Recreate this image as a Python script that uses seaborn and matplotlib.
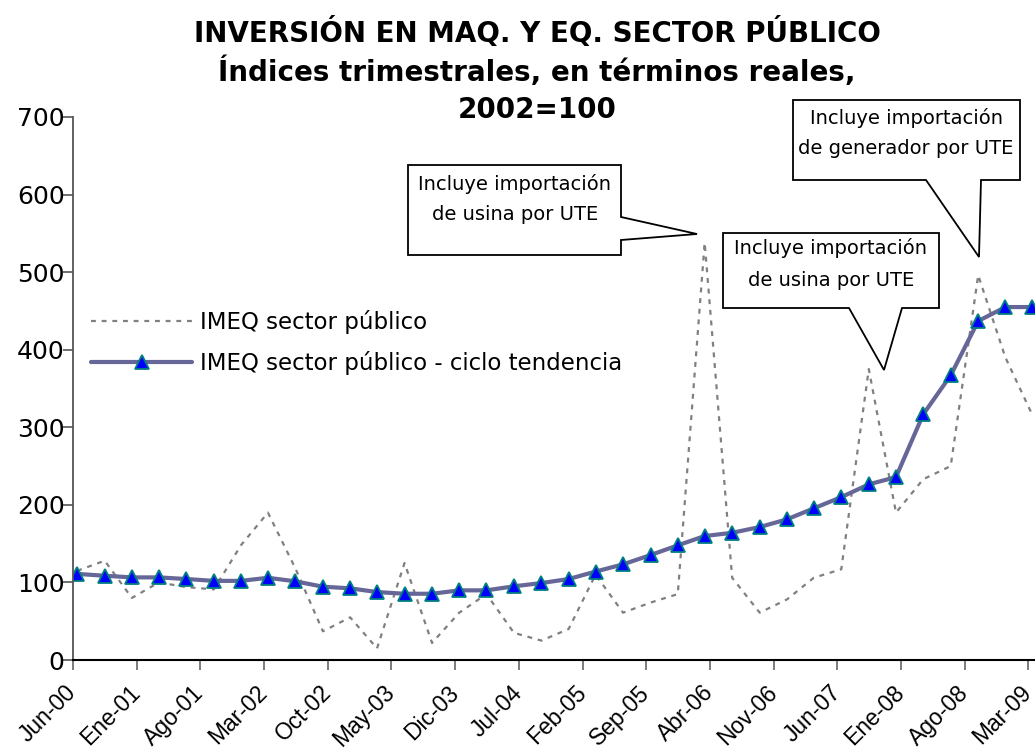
import matplotlib
matplotlib.use('Agg')
import matplotlib.pyplot as plt
from matplotlib.patches import Polygon
import seaborn as sns
import pandas as pd

# quarterly data, Jun-00 .. Mar-09
quarters = pd.date_range('2000-06-01', periods=36, freq='3MS') + pd.Timedelta(days=14)
imeq = [115, 128, 80, 100, 94, 91, 148, 190, 118, 37,
        55, 15, 125, 22, 61, 85, 35, 25, 40, 110,
        61, 74, 85, 538, 106, 61, 78, 106, 117, 375,
        190, 233, 250, 496, 390, 316]
tendencia = [111, 108.6, 106.5, 106.5, 104.4, 102, 102, 106, 101.4, 94.5,
             92.4, 87.6, 85.4, 85.4, 89.8, 89.8, 95, 99.2, 104.4, 114,
             123.3, 135.3, 147.8, 159.8, 164, 171.4, 181.3, 195.5, 210, 226.4,
             235.8, 316.6, 367, 437, 455, 455]
tick_dates = pd.date_range('2000-06-01', periods=16, freq='7MS')
tick_labels = ['Jun-00', 'Ene-01', 'Ago-01', 'Mar-02', 'Oct-02', 'May-03', 'Dic-03', 'Jul-04',
               'Feb-05', 'Sep-05', 'Abr-06', 'Nov-06', 'Jun-07', 'Ene-08', 'Ago-08', 'Mar-09']

df = pd.DataFrame({'fecha': quarters, 'imeq': imeq, 'tend': tendencia})

W, H = 1035, 752
sns.set_style('white')
plt.rcParams['font.family'] = ['DejaVu Sans']
plt.rcParams['text.color'] = 'black'
plt.rcParams['xtick.labelcolor'] = 'black'
plt.rcParams['ytick.labelcolor'] = 'black'

fig = plt.figure(figsize=(W / 100, H / 100), dpi=100)
ax = fig.add_axes([73 / W, 1 - 660 / H, 1 - 73 / W, (660 - 117) / H])


def px(x, y):
    # pixel position (from top-left) -> figure fraction
    return (x / W, 1 - y / H)


sns.lineplot(data=df, x='fecha', y='imeq', ax=ax, color='#808080', lw=1.6,
             linestyle=(0, (2.2, 2.6)), label='IMEQ sector público')
sns.lineplot(data=df, x='fecha', y='tend', ax=ax, color='#666699', lw=3,
             marker='^', markersize=10, markerfacecolor='#0000ff',
             markeredgecolor='#008080', markeredgewidth=1.3,
             label='IMEQ sector público - ciclo tendencia')

ax.set_ylim(0, 700)
ax.set_yticks(range(0, 701, 100))
ax.set_xlim(pd.Timestamp('2000-06-01'), pd.Timestamp('2009-03-24'))
ax.set_xticks(tick_dates)
ax.set_xticklabels(tick_labels, rotation=45, ha='right', va='center', rotation_mode='anchor',
                   family='Liberation Sans', fontsize=16.5)
ax.tick_params(axis='y', labelsize=18, length=7, width=1.2, color='#555555',
               direction='out', left=True, pad=-1)
ax.tick_params(axis='x', length=7, width=1.2, color='#666666', direction='out',
               bottom=True, pad=14)
ax.set_xlabel('')
ax.set_ylabel('')
sns.despine(ax=ax, top=True, right=True)
ax.spines['left'].set_color('#555555')
ax.spines['left'].set_linewidth(1.3)
ax.spines['bottom'].set_color('black')
ax.spines['bottom'].set_linewidth(1.5)

ax.legend(loc='upper left', bbox_to_anchor=px(82, 301), bbox_transform=fig.transFigure,
          frameon=False, fontsize=16.5, handlelength=4.4, handletextpad=0.35,
          labelspacing=0.75, borderaxespad=0)

# title
title_font = dict(family='DejaVu Sans', weight='bold', fontsize=20,
                  ha='center', va='center', color='black')
fig.text(*px(537, 33), 'INVERSIÓN EN MAQ. Y EQ. SECTOR PÚBLICO', **title_font)
fig.text(*px(537, 72), 'Índices trimestrales, en términos reales,', **title_font)
fig.text(*px(537, 110), '2002=100', **title_font)

# callouts
callouts = [
    ([(408, 165), (621, 165), (621, 217), (697, 234), (621, 240), (621, 255), (408, 255)],
     (515, 184), (515, 214), 'de usina por UTE'),
    ([(723, 233), (939, 233), (939, 308), (902, 308), (884, 370), (849, 308), (723, 308)],
     (831, 248), (831, 280), 'de usina por UTE'),
    ([(793, 100), (1020, 100), (1020, 180), (981, 180), (979, 257), (926, 180), (793, 180)],
     (906, 118), (906, 148), 'de generador por UTE'),
]
for verts, p1, p2, line2 in callouts:
    fig.patches.append(Polygon([px(x, y) for x, y in verts], closed=True, transform=fig.transFigure,
                               facecolor='white', edgecolor='black', lw=1.3, zorder=5))
    fig.text(*px(*p1), 'Incluye importación', fontsize=14, ha='center', va='center', zorder=6)
    fig.text(*px(*p2), line2, fontsize=14, ha='center', va='center', zorder=6)

fig.savefig('out.png', dpi=100)
